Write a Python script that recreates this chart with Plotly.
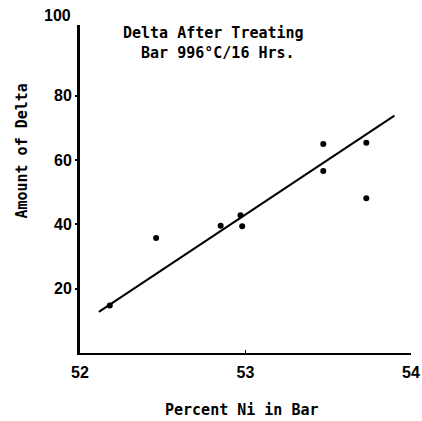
import plotly.graph_objects as go

# Data
ni_percent = [52.18, 52.46, 52.85, 52.97, 52.98, 53.47, 53.47, 53.73, 53.73]
delta_amount = [14.8, 35.8, 39.6, 42.8, 39.4, 65.0, 56.6, 65.4, 48.1]
fit_x = [52.114, 53.90]
fit_y = [12.8, 73.8]
x_ticks = [52, 53, 54]
y_ticks = [20, 40, 60, 80]

title_lines = ["Delta After Treating", "\u00a0Bar 996°C/16 Hrs."]
x_title = "Percent Ni in Bar"
y_title = "Amount of Delta"

mono = "DejaVu Sans Mono"
sans = "Liberation Sans"

fig = go.Figure()
fig.add_trace(go.Scatter(x=fit_x, y=fit_y, mode="lines",
                         line=dict(color="black", width=2), hoverinfo="skip"))
fig.add_trace(go.Scatter(x=ni_percent, y=delta_amount, mode="markers",
                         marker=dict(color="black", size=6)))

fig.update_layout(
    width=422, height=421,
    margin=dict(l=80, r=11, t=25, b=68, autoexpand=False),
    paper_bgcolor="white", plot_bgcolor="white",
    showlegend=False,
    xaxis=dict(range=[52, 54], tickvals=x_ticks, ticktext=[str(v) for v in x_ticks],
               showgrid=False, zeroline=False, showline=True, linecolor="black",
               linewidth=2, ticks="inside", ticklen=3, tickwidth=1, tickcolor="black",
               ticklabeloverflow="allow", ticklabelstandoff=4, automargin=False,
               tickfont=dict(family=sans, size=16, color="black", weight="bold")),
    yaxis=dict(range=[0, 102], tickvals=y_ticks, ticktext=[str(v) for v in y_ticks],
               showgrid=False, zeroline=False, showline=True, linecolor="black",
               linewidth=3, ticks="outside", ticklen=2, tickwidth=2, tickcolor="black",
               automargin=False,
               tickfont=dict(family=sans, size=16, color="black", weight="bold")),
)

annotations = [
    dict(text="<br>".join(title_lines), x=0.402, y=1.0, xref="paper", yref="paper",
         xanchor="center", yanchor="top", yshift=3, showarrow=False, align="center",
         font=dict(family=mono, size=15, color="black", weight="bold")),
    dict(text=x_title, x=0.49, y=0, xref="paper", yref="paper",
         xanchor="center", yanchor="middle", yshift=-57, showarrow=False,
         font=dict(family=mono, size=15, color="black", weight="bold")),
    dict(text=y_title, x=0, y=0.614, xref="paper", yref="paper", textangle=-90,
         xanchor="center", yanchor="middle", xshift=-58, showarrow=False,
         font=dict(family=mono, size=15, color="black", weight="bold")),
    dict(text="100", x=0, y=100, xref="paper", yref="y", xanchor="right",
         yanchor="middle", xshift=-7, yshift=16, showarrow=False,
         font=dict(family=sans, size=16, color="black", weight="bold")),
]
fig.update_layout(annotations=annotations)

fig.write_html("out.html")
